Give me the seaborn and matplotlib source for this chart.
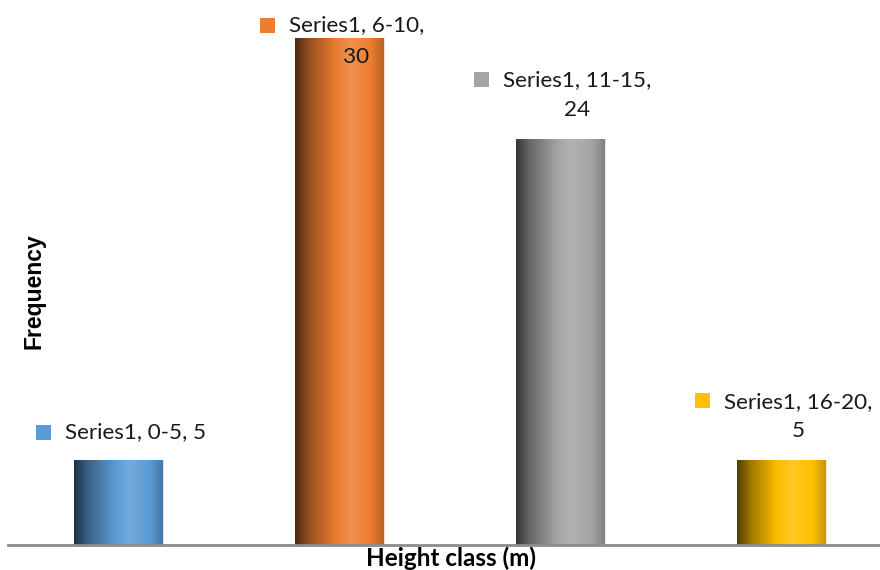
import numpy as np
import pandas as pd
import matplotlib
matplotlib.use("Agg")
import matplotlib.pyplot as plt
import seaborn as sns
from matplotlib.patches import Rectangle
from matplotlib.colors import to_rgb

# ---- data ----
categories = ["0-5", "6-10", "11-15", "16-20"]
frequency = [5, 30, 24, 5]
series_name = "Series1"
colors = ["#5B9BD5", "#ED7D31", "#A5A5A5", "#FFC000"]
x_title = "Height class (m)"
y_title = "Frequency"

W, H = 880, 570
sns.set_theme(style="white")
plt.rcParams["font.family"] = ["Lato", "DejaVu Sans"]

fig = plt.figure(figsize=(W / 100, H / 100), dpi=100)
ax = fig.add_axes([8 / W, 25 / H, 884 / W, 541 / H])

df = pd.DataFrame({"cat": categories, "freq": frequency})
sns.barplot(data=df, x="cat", y="freq", hue="cat", palette=colors,
            order=categories, width=0.4, legend=False, ax=ax, saturation=1)

ax.set_xlim(-0.5, 3.5)
ax.set_ylim(0, 32)


def shade(base, f):
    c = np.array(to_rgb(base))
    if f <= 1:
        return c * f
    return c + (1 - c) * (f - 1)


stops = [(0.0, 0.32), (0.15, 0.62), (0.45, 0.98), (0.62, 1.15), (0.85, 1.0), (1.0, 0.78)]
xs = np.linspace(0, 1, 200)
for patch, col in zip(ax.patches, colors):
    b0 = np.array([shade(col, f) for _, f in stops])
    pos = [p for p, _ in stops]
    grad = np.stack([np.interp(xs, pos, b0[:, k]) for k in range(3)], axis=-1)[None, :, :]
    x0, y0 = patch.get_x(), patch.get_y()
    w, h = patch.get_width(), patch.get_height()
    im = ax.imshow(np.clip(grad, 0, 1), extent=[x0, x0 + w, y0, y0 + h],
                   aspect="auto", zorder=patch.get_zorder() + 0.1, interpolation="bilinear")
    im.set_clip_path(patch)
    patch.set_edgecolor((1, 1, 1, 0.5))
    patch.set_linewidth(0.8)

ax.set_xlim(-0.5, 3.5)
ax.set_ylim(0, 32)

for s in ["top", "right", "left"]:
    ax.spines[s].set_visible(False)
ax.spines["bottom"].set_color("#8C8C8C")
ax.spines["bottom"].set_linewidth(2)
ax.set_xticks([])
ax.set_yticks([])

ax.set_xlabel(x_title, fontsize=17.5, fontweight="bold", color="black")
ax.xaxis.set_label_coords((451 - 8) / 884, -13 / 541)
ax.xaxis.label.set_va("center")
ax.set_ylabel(y_title, fontsize=16.5, fontweight="bold", color="black",
              family=["Liberation Sans", "DejaVu Sans"])
ax.yaxis.set_label_coords((34 - 8) / 884, (570 - 291 - 25) / 541)
ax.yaxis.label.set_va("center")

# ---- data labels ----
fig.canvas.draw()
renderer = fig.canvas.get_renderer()
line_gap = 32
for i, (cat, val, col) in enumerate(zip(categories, frequency, colors)):
    txt = f"{series_name}, {cat}, {val}"
    if len(txt) > 15:
        txt = f"{series_name}, {cat},\n{val}"
    nlines = txt.count("\n") + 1
    px, py = ax.transData.transform((i, val))
    cx = px + 17
    last_center = py + 28
    block_center = last_center + (nlines - 1) * line_gap / 2
    top_limit = H - 25 - (nlines - 1) * line_gap / 2
    block_center = min(block_center, top_limit)
    t = fig.text(cx / W, block_center / H, txt, ha="center", va="center",
                 multialignment="center", fontsize=16.2, color="#1a1a1a",
                 linespacing=1.7 if block_center == top_limit else 1.6)
    bb = t.get_window_extent(renderer)
    first_center = block_center + (nlines - 1) * line_gap / 2
    sq = 15
    fig.add_artist(Rectangle(((bb.x0 - 14 - sq) / W, (first_center - sq / 2) / H),
                             sq / W, sq / H, transform=fig.transFigure,
                             facecolor=col, edgecolor="none"))

fig.savefig("out.png", dpi=100)
